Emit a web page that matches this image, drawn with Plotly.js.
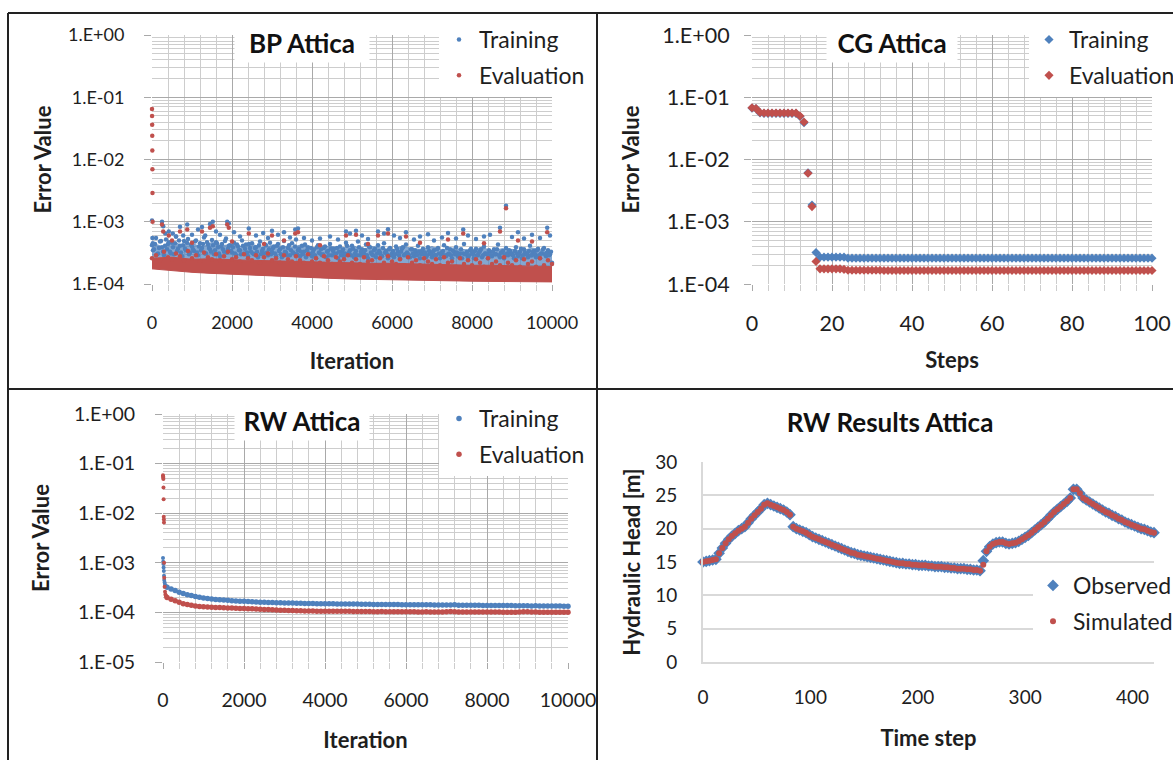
<!DOCTYPE html>
<html>
<head>
<meta charset="utf-8">
<script src="https://cdn.plot.ly/plotly-3.0.1.min.js"></script>
<style>html,body{margin:0;padding:0;background:#fff;overflow:hidden;width:1173px;height:760px;}#chart{width:1173px;height:760px;overflow:hidden;}</style>
</head>
<body>
<div id="chart"></div>
<script>
// ---------------- DATA ----------------
// Panel 1: BP Attica (Iteration vs Error Value)
const bpTrainBaseY = [
4.2e-4,3.6e-4,5.5e-4,3.1e-4,4.8e-4,3.9e-4,2.9e-4,5.2e-4,4.4e-4,3.3e-4,
4.6e-4,3.0e-4,5.8e-4,3.7e-4,4.1e-4,2.8e-4,4.9e-4,3.5e-4,5.3e-4,3.2e-4,
4.0e-4,3.4e-4,5.0e-4,2.9e-4,4.5e-4,3.8e-4,5.6e-4,3.1e-4,4.3e-4,3.6e-4,
5.1e-4,3.0e-4,4.7e-4,3.9e-4,2.8e-4,4.4e-4,3.3e-4,5.4e-4,3.7e-4,4.2e-4,
3.2e-4,4.6e-4,2.9e-4,4.0e-4,3.5e-4,5.0e-4,3.1e-4,4.3e-4,2.8e-4,3.8e-4,
4.5e-4,3.0e-4,3.9e-4,2.7e-4,4.8e-4,3.4e-4,3.1e-4,4.2e-4,2.9e-4,4.6e-4,
3.3e-4,4.0e-4,2.8e-4,4.4e-4,3.6e-4,2.7e-4,4.9e-4,3.2e-4,3.8e-4,2.9e-4,
4.5e-4,3.1e-4,5.2e-4,3.5e-4,2.8e-4,4.1e-4,3.3e-4,2.7e-4,3.9e-4,3.0e-4,
2.8e-4,3.6e-4,2.6e-4,4.2e-4,3.1e-4,2.9e-4,3.8e-4,2.7e-4,3.4e-4,4.4e-4,
2.9e-4,3.7e-4,3.1e-4,2.6e-4,4.0e-4,3.3e-4,2.8e-4,4.6e-4,3.0e-4,3.5e-4,
4.1e-4,2.7e-4,3.4e-4,4.8e-4,2.9e-4,3.6e-4,3.1e-4,4.3e-4,2.6e-4,3.9e-4,
3.0e-4,3.5e-4,2.7e-4,4.2e-4,3.2e-4,2.8e-4,4.5e-4,3.4e-4,2.6e-4,3.8e-4,
3.1e-4,2.7e-4,4.0e-4,3.3e-4,2.6e-4,3.7e-4,2.9e-4,4.3e-4,3.0e-4,2.7e-4,
3.6e-4,2.8e-4,3.2e-4,4.1e-4,2.6e-4,3.4e-4,3.0e-4,2.7e-4,3.9e-4,3.1e-4,
2.7e-4,3.5e-4,2.9e-4,3.8e-4,2.6e-4,3.2e-4,4.2e-4,2.8e-4,3.0e-4,3.6e-4,
2.6e-4,3.3e-4,3.9e-4,2.8e-4,3.1e-4,2.6e-4,4.4e-4,3.0e-4,2.7e-4,3.5e-4,
3.2e-4,2.6e-4,3.7e-4,2.9e-4,3.4e-4,2.7e-4,4.0e-4,3.1e-4,2.6e-4,3.3e-4,
2.8e-4,3.6e-4,3.0e-4,4.3e-4,2.7e-4,3.2e-4,2.6e-4,3.8e-4,2.9e-4,3.4e-4,
3.1e-4,2.6e-4,3.9e-4,2.8e-4,3.3e-4,2.6e-4,3.6e-4,3.0e-4,2.7e-4,4.1e-4,
2.9e-4,3.4e-4,2.7e-4,3.7e-4,2.6e-4,3.1e-4,3.8e-4,2.8e-4,3.5e-4,3.0e-4,
2.2e-4];
const bpTrainMidY = [
3.5e-4,4.4e-4,3.0e-4,3.8e-4,4.9e-4,3.3e-4,4.1e-4,3.6e-4,4.7e-4,3.1e-4,
3.9e-4,4.5e-4,3.4e-4,5.0e-4,3.2e-4,4.2e-4,3.7e-4,4.6e-4,3.0e-4,4.3e-4,
3.6e-4,4.8e-4,3.2e-4,4.0e-4,3.5e-4,4.4e-4,3.1e-4,4.7e-4,3.8e-4,3.3e-4,
4.2e-4,3.5e-4,4.5e-4,3.1e-4,4.0e-4,3.6e-4,4.9e-4,3.2e-4,4.1e-4,3.4e-4,
3.9e-4,3.1e-4,4.3e-4,3.5e-4,3.0e-4,4.1e-4,3.7e-4,3.2e-4,4.4e-4,3.3e-4,
3.1e-4,3.8e-4,3.3e-4,4.2e-4,3.0e-4,3.7e-4,4.3e-4,3.2e-4,3.6e-4,3.0e-4,
3.8e-4,3.1e-4,4.1e-4,3.4e-4,3.0e-4,3.9e-4,3.3e-4,2.9e-4,4.2e-4,3.5e-4,
3.2e-4,4.0e-4,3.0e-4,3.7e-4,3.3e-4,3.0e-4,4.3e-4,3.5e-4,3.1e-4,3.8e-4,
3.3e-4,2.9e-4,3.9e-4,3.2e-4,3.6e-4,3.0e-4,4.0e-4,3.3e-4,2.9e-4,3.7e-4,
3.4e-4,3.0e-4,3.8e-4,3.3e-4,2.9e-4,3.6e-4,3.1e-4,4.1e-4,3.2e-4,2.9e-4,
3.7e-4,3.1e-4,2.9e-4,3.9e-4,3.3e-4,3.0e-4,3.5e-4,2.9e-4,4.0e-4,3.2e-4,
2.9e-4,3.7e-4,3.1e-4,3.4e-4,2.9e-4,3.8e-4,3.2e-4,3.0e-4,3.6e-4,2.9e-4,
3.4e-4,3.0e-4,3.7e-4,2.9e-4,3.3e-4,3.9e-4,3.0e-4,3.2e-4,2.9e-4,3.6e-4,
3.1e-4,3.5e-4,2.9e-4,3.3e-4,3.0e-4,3.7e-4,3.2e-4,2.9e-4,3.4e-4,3.0e-4,
3.3e-4,2.9e-4,3.6e-4,3.1e-4,3.0e-4,3.4e-4,2.9e-4,3.8e-4,3.1e-4,2.9e-4,
3.4e-4,3.0e-4,3.2e-4,2.9e-4,3.6e-4,3.1e-4,3.0e-4,3.3e-4,2.9e-4,3.7e-4,
3.0e-4,3.4e-4,2.9e-4,3.2e-4,3.6e-4,2.9e-4,3.1e-4,3.0e-4,3.5e-4,2.9e-4,
3.3e-4,3.0e-4,3.6e-4,2.9e-4,3.2e-4,3.4e-4,2.9e-4,3.1e-4,3.5e-4,3.0e-4,
2.9e-4,3.4e-4,3.1e-4,3.0e-4,3.7e-4,2.9e-4,3.2e-4,3.0e-4,3.4e-4,2.9e-4,
3.3e-4,3.0e-4,3.5e-4,2.9e-4,3.1e-4,3.6e-4,3.0e-4,3.2e-4,2.9e-4,3.3e-4];
const bpTrainSpikeX = [0,10,20,250,280,330,420,520,600,700,780,880,1000,1150,1250,1330,1450,1520,1600,1700,1880,1920,2050,2200,2420,2600,2780,2900,3000,3150,3300,3450,3580,3650,3800,4000,4200,4450,4650,4850,4950,5100,5250,5400,5650,5800,5900,6050,6200,6350,6550,6700,6900,7050,7250,7400,7600,7780,7900,8100,8300,8450,8700,8850,9000,9150,9300,9500,9700,9880,9950];
const bpTrainSpikeY = [1.05e-3,5.5e-4,4.5e-4,1.0e-3,8.5e-4,6.5e-4,7.0e-4,6.5e-4,5.8e-4,8.3e-4,6.0e-4,9.0e-4,6.2e-4,7.5e-4,8.2e-4,6.0e-4,9.2e-4,1.0e-3,7.0e-4,6.2e-4,1.0e-3,9.5e-4,6.8e-4,5.8e-4,7.8e-4,6.0e-4,6.6e-4,5.5e-4,7.2e-4,6.2e-4,6.8e-4,5.6e-4,7.5e-4,7.8e-4,5.5e-4,5.0e-4,5.4e-4,5.8e-4,5.2e-4,7.0e-4,6.5e-4,7.2e-4,6.0e-4,5.3e-4,7.0e-4,6.5e-4,7.6e-4,6.0e-4,5.5e-4,6.8e-4,5.2e-4,5.8e-4,6.3e-4,5.0e-4,5.6e-4,6.6e-4,5.4e-4,7.5e-4,6.0e-4,5.3e-4,5.8e-4,6.2e-4,8.0e-4,1.8e-3,5.7e-4,6.8e-4,5.4e-4,6.2e-4,5.5e-4,8.0e-4,6.0e-4];
const bpTrainBandX = [0,250,500,750,1000,1250,1500,1750,2000,2250,2500,2750,3000,3250,3500,3750,4000,4250,4500,4750,5000,5250,5500,5750,6000,6250,6500,6750,7000,7250,7500,7750,8000,8250,8500,8750,9000,9250,9500,9750,10000];
const bpTrainBandHigh = [
4.6e-4,4.0e-4,4.8e-4,4.2e-4,4.5e-4,3.9e-4,4.7e-4,4.1e-4,4.4e-4,4.0e-4,
4.4e-4,3.8e-4,4.2e-4,4.1e-4,3.9e-4,4.3e-4,3.6e-4,4.1e-4,4.0e-4,3.7e-4,
4.2e-4,3.6e-4,4.0e-4,3.8e-4,3.5e-4,4.1e-4,3.7e-4,3.6e-4,4.0e-4,3.5e-4,
3.8e-4,3.6e-4,3.5e-4,3.9e-4,3.4e-4,3.7e-4,3.6e-4,3.4e-4,3.8e-4,3.5e-4,
3.0e-4];
const bpEvalBaseY = [
2.6e-4,2.9e-4,2.4e-4,3.3e-4,2.7e-4,2.5e-4,3.1e-4,2.8e-4,2.4e-4,3.4e-4,
2.6e-4,2.9e-4,2.3e-4,3.2e-4,2.7e-4,2.5e-4,3.0e-4,2.4e-4,2.8e-4,3.3e-4,
2.5e-4,2.7e-4,2.3e-4,3.0e-4,2.6e-4,2.4e-4,2.9e-4,2.2e-4,2.7e-4,3.1e-4,
2.4e-4,2.6e-4,2.2e-4,2.9e-4,2.5e-4,2.3e-4,2.8e-4,2.4e-4,2.2e-4,3.0e-4,
2.3e-4,2.6e-4,2.2e-4,2.8e-4,2.4e-4,2.1e-4,2.7e-4,2.3e-4,2.5e-4,2.9e-4,
2.2e-4,2.5e-4,2.1e-4,2.7e-4,2.3e-4,2.4e-4,2.0e-4,2.6e-4,2.2e-4,2.8e-4,
2.3e-4,2.1e-4,2.5e-4,2.0e-4,2.7e-4,2.2e-4,2.4e-4,2.0e-4,2.6e-4,2.3e-4,
2.1e-4,2.5e-4,2.0e-4,2.7e-4,2.2e-4,2.3e-4,1.9e-4,2.6e-4,2.1e-4,2.4e-4,
2.0e-4,2.5e-4,2.2e-4,1.9e-4,2.6e-4,2.1e-4,2.3e-4,2.0e-4,2.7e-4,2.2e-4,
2.0e-4,2.4e-4,1.9e-4,2.5e-4,2.1e-4,2.3e-4,1.9e-4,2.6e-4,2.0e-4,2.4e-4,
2.1e-4];
const bpEvalSpikeX = [0,2,4,6,8,10,12,14,250,280,420,500,700,880,1000,1250,1450,1520,1880,1920,2000,2420,2800,3000,3300,3580,3650,4200,4850,5100,5400,5650,5900,6350,6700,7400,7780,8300,8700,8850,9150,9500,9880];
const bpEvalSpikeY = [6.5e-2,5.0e-2,3.6e-2,2.4e-2,1.4e-2,7.0e-3,2.9e-3,1.0e-3,9.0e-4,7.0e-4,6.0e-4,5.0e-4,7.0e-4,7.5e-4,4.6e-4,7.0e-4,8.0e-4,8.5e-4,9.0e-4,8.0e-4,4.8e-4,6.5e-4,4.4e-4,6.0e-4,5.0e-4,6.5e-4,6.8e-4,4.2e-4,6.0e-4,6.2e-4,4.4e-4,6.0e-4,6.5e-4,5.8e-4,4.6e-4,5.2e-4,6.5e-4,4.5e-4,7.0e-4,1.65e-3,5.0e-4,4.8e-4,6.8e-4];
const bpBandX = [0,500,1000,1500,2000,2500,3000,3500,4000,4500,5000,5500,6000,6500,7000,7500,8000,8500,9000,9500,10000];
const bpEvalBandLow = [1.75e-4,1.62e-4,1.54e-4,1.48e-4,1.43e-4,1.38e-4,1.33e-4,1.29e-4,1.26e-4,1.23e-4,1.20e-4,1.18e-4,1.16e-4,1.14e-4,1.13e-4,1.12e-4,1.11e-4,1.10e-4,1.09e-4,1.09e-4,1.08e-4];
const bpEvalBandHigh = [2.6e-4,2.7e-4,2.5e-4,2.55e-4,2.45e-4,2.4e-4,2.35e-4,2.35e-4,2.25e-4,2.25e-4,2.2e-4,2.15e-4,2.15e-4,2.1e-4,2.05e-4,2.05e-4,2.0e-4,2.0e-4,1.95e-4,1.95e-4,1.9e-4];

// Panel 2: CG Attica (Steps vs Error Value)
const cgSteps = [0,1,2,3,4,5,6,7,8,9,10,11,12,13,14,15,16,17,18,19,20,21,22,23,24,25,26,27,28,29,30,31,32,33,34,35,36,37,38,39,40,41,42,43,44,45,46,47,48,49,50,51,52,53,54,55,56,57,58,59,60,61,62,63,64,65,66,67,68,69,70,71,72,73,74,75,76,77,78,79,80,81,82,83,84,85,86,87,88,89,90,91,92,93,94,95,96,97,98,99,100];
const cgTraining = [6.7e-2,6.6e-2,5.6e-2,5.5e-2,5.5e-2,5.5e-2,5.5e-2,5.5e-2,5.5e-2,5.5e-2,5.5e-2,5.5e-2,4.9e-2,3.9e-2,6.1e-3,1.85e-3,3.2e-4,2.7e-4,2.7e-4,2.7e-4,2.7e-4,2.7e-4,2.7e-4,2.7e-4,2.6e-4,2.6e-4,2.6e-4,2.6e-4,2.6e-4,2.6e-4,2.6e-4,2.6e-4,2.6e-4,2.6e-4,2.6e-4,2.6e-4,2.6e-4,2.6e-4,2.6e-4,2.6e-4,2.6e-4,2.6e-4,2.6e-4,2.6e-4,2.6e-4,2.6e-4,2.6e-4,2.6e-4,2.6e-4,2.6e-4,2.6e-4,2.6e-4,2.6e-4,2.6e-4,2.6e-4,2.6e-4,2.6e-4,2.6e-4,2.6e-4,2.6e-4,2.6e-4,2.6e-4,2.6e-4,2.6e-4,2.6e-4,2.6e-4,2.6e-4,2.6e-4,2.6e-4,2.6e-4,2.6e-4,2.6e-4,2.6e-4,2.6e-4,2.6e-4,2.6e-4,2.6e-4,2.6e-4,2.6e-4,2.6e-4,2.6e-4,2.6e-4,2.6e-4,2.6e-4,2.6e-4,2.6e-4,2.6e-4,2.6e-4,2.6e-4,2.6e-4,2.6e-4,2.6e-4,2.6e-4,2.6e-4,2.6e-4,2.6e-4,2.6e-4,2.6e-4,2.6e-4,2.6e-4,2.6e-4];
const cgEvaluation = [6.8e-2,6.6e-2,5.7e-2,5.6e-2,5.6e-2,5.6e-2,5.6e-2,5.6e-2,5.6e-2,5.6e-2,5.6e-2,5.6e-2,5.0e-2,4.0e-2,6.0e-3,1.75e-3,2.3e-4,1.75e-4,1.75e-4,1.75e-4,1.75e-4,1.75e-4,1.75e-4,1.72e-4,1.66e-4,1.66e-4,1.66e-4,1.66e-4,1.66e-4,1.66e-4,1.66e-4,1.66e-4,1.66e-4,1.65e-4,1.65e-4,1.65e-4,1.65e-4,1.65e-4,1.65e-4,1.65e-4,1.65e-4,1.65e-4,1.65e-4,1.65e-4,1.65e-4,1.65e-4,1.65e-4,1.65e-4,1.65e-4,1.65e-4,1.65e-4,1.65e-4,1.65e-4,1.65e-4,1.65e-4,1.65e-4,1.65e-4,1.65e-4,1.65e-4,1.65e-4,1.65e-4,1.65e-4,1.65e-4,1.65e-4,1.65e-4,1.65e-4,1.65e-4,1.65e-4,1.65e-4,1.65e-4,1.65e-4,1.65e-4,1.65e-4,1.65e-4,1.65e-4,1.65e-4,1.65e-4,1.65e-4,1.65e-4,1.65e-4,1.65e-4,1.65e-4,1.65e-4,1.65e-4,1.65e-4,1.65e-4,1.65e-4,1.65e-4,1.65e-4,1.65e-4,1.65e-4,1.65e-4,1.65e-4,1.65e-4,1.65e-4,1.65e-4,1.65e-4,1.65e-4,1.65e-4,1.65e-4,1.65e-4];

// Panel 3: RW Attica (Iteration vs Error Value)
const rwTrainEarlyX = [0,5,10,15,20,25,30,40,50,60,70,80];
const rwTrainEarlyY = [1.25e-3,1.05e-3,9.5e-4,8.0e-4,6.8e-4,5.5e-4,4.5e-4,4.0e-4,3.6e-4,3.5e-4,3.4e-4,3.3e-4];
const rwEvalEarlyX = [0,3,6,9,12,15,18,21,24,27,30,40,50,60,70,80];
const rwEvalEarlyY = [5.8e-2,5.5e-2,5.2e-2,4.9e-2,3.3e-2,1.9e-2,8.5e-3,7.5e-3,6.5e-3,1.0e-3,5.0e-4,3.3e-4,2.6e-4,2.3e-4,2.2e-4,2.1e-4];
const rwTrainCurve = [
3.2e-4,2.95e-4,2.75e-4,2.55e-4,2.4e-4,2.28e-4,2.18e-4,2.1e-4,2.02e-4,1.96e-4,
1.91e-4,1.87e-4,1.83e-4,1.8e-4,1.77e-4,1.75e-4,1.72e-4,1.7e-4,1.68e-4,1.67e-4,
1.65e-4,1.64e-4,1.62e-4,1.61e-4,1.6e-4,1.59e-4,1.58e-4,1.57e-4,1.56e-4,1.55e-4,
1.54e-4,1.54e-4,1.53e-4,1.53e-4,1.52e-4,1.51e-4,1.51e-4,1.5e-4,1.5e-4,1.49e-4,
1.49e-4,1.49e-4,1.48e-4,1.48e-4,1.48e-4,1.47e-4,1.47e-4,1.47e-4,1.46e-4,1.46e-4,
1.46e-4,1.45e-4,1.45e-4,1.45e-4,1.44e-4,1.44e-4,1.44e-4,1.44e-4,1.43e-4,1.43e-4,
1.43e-4,1.43e-4,1.42e-4,1.42e-4,1.42e-4,1.42e-4,1.41e-4,1.41e-4,1.41e-4,1.41e-4,
1.41e-4,1.42e-4,1.4e-4,1.4e-4,1.39e-4,1.39e-4,1.39e-4,1.39e-4,1.38e-4,1.38e-4,
1.38e-4,1.38e-4,1.37e-4,1.37e-4,1.37e-4,1.37e-4,1.36e-4,1.36e-4,1.36e-4,1.36e-4,
1.35e-4,1.36e-4,1.35e-4,1.35e-4,1.34e-4,1.34e-4,1.34e-4,1.34e-4,1.33e-4,1.33e-4];
const rwEvalCurve = [
2.0e-4,1.85e-4,1.72e-4,1.6e-4,1.5e-4,1.44e-4,1.39e-4,1.35e-4,1.32e-4,1.3e-4,
1.28e-4,1.27e-4,1.26e-4,1.25e-4,1.24e-4,1.23e-4,1.22e-4,1.21e-4,1.2e-4,1.2e-4,
1.19e-4,1.18e-4,1.17e-4,1.16e-4,1.15e-4,1.14e-4,1.13e-4,1.12e-4,1.11e-4,1.1e-4,
1.09e-4,1.09e-4,1.08e-4,1.08e-4,1.07e-4,1.07e-4,1.07e-4,1.06e-4,1.06e-4,1.06e-4,
1.06e-4,1.05e-4,1.05e-4,1.05e-4,1.06e-4,1.05e-4,1.04e-4,1.04e-4,1.04e-4,1.04e-4,
1.04e-4,1.03e-4,1.03e-4,1.04e-4,1.03e-4,1.03e-4,1.03e-4,1.03e-4,1.03e-4,1.03e-4,
1.03e-4,1.03e-4,1.02e-4,1.02e-4,1.03e-4,1.02e-4,1.02e-4,1.02e-4,1.02e-4,1.03e-4,
1.04e-4,1.03e-4,1.02e-4,1.02e-4,1.02e-4,1.02e-4,1.02e-4,1.02e-4,1.02e-4,1.02e-4,
1.02e-4,1.02e-4,1.02e-4,1.01e-4,1.01e-4,1.01e-4,1.01e-4,1.02e-4,1.03e-4,1.03e-4,
1.02e-4,1.02e-4,1.01e-4,1.01e-4,1.01e-4,1.01e-4,1.01e-4,1.01e-4,1.01e-4,1.01e-4];

// Panel 4: RW Results Attica (Time step vs Hydraulic Head)
const headObserved = [
15.0,15.1,15.2,15.3,15.4,16.3,17.1,17.8,18.4,18.9,19.3,19.7,20.0,20.3,20.9,21.5,22.0,22.5,23.0,23.6,
23.8,23.6,23.4,23.2,23.0,22.8,22.5,22.1,20.3,20.0,19.8,19.6,19.4,19.1,18.8,18.6,18.4,18.2,18.0,17.8,
17.6,17.4,17.2,17.0,16.8,16.6,16.4,16.3,16.1,16.0,15.9,15.8,15.7,15.6,15.5,15.4,15.3,15.2,15.1,15.0,
14.9,14.8,14.8,14.7,14.7,14.6,14.6,14.5,14.5,14.5,14.4,14.4,14.3,14.3,14.3,14.2,14.2,14.1,14.1,14.0,
14.0,14.0,13.9,13.9,13.8,13.8,13.7,15.2,16.6,17.3,17.7,17.9,18.0,18.0,17.8,17.7,17.8,17.9,18.1,18.4,
18.7,19.0,19.4,19.8,20.2,20.6,21.0,21.5,22.0,22.5,22.9,23.3,23.7,24.1,24.6,25.9,25.9,25.3,24.6,24.3,
24.0,23.7,23.4,23.1,22.8,22.5,22.3,22.0,21.8,21.5,21.3,21.0,20.8,20.6,20.4,20.2,20.0,19.9,19.7,19.5,
19.4];
const headSimulated = [
15.0,15.1,15.2,15.3,15.4,16.3,17.1,17.8,18.4,18.9,19.3,19.7,20.0,20.3,20.9,21.5,22.0,22.5,23.0,23.6,
23.8,23.6,23.4,23.2,23.0,22.8,22.5,22.1,20.3,20.0,19.8,19.6,19.4,19.1,18.8,18.6,18.4,18.2,18.0,17.8,
17.6,17.4,17.2,17.0,16.8,16.6,16.4,16.3,16.1,16.0,15.9,15.8,15.7,15.6,15.5,15.4,15.3,15.2,15.1,15.0,
14.9,14.8,14.8,14.7,14.7,14.6,14.6,14.5,14.5,14.5,14.4,14.4,14.3,14.3,14.3,14.2,14.2,14.1,14.1,14.0,
14.0,14.0,13.9,13.9,13.8,13.8,13.7,14.6,16.6,17.3,17.7,17.9,18.0,18.0,17.8,17.7,17.8,17.9,18.1,18.4,
18.7,19.0,19.4,19.8,20.2,20.6,21.0,21.5,22.0,22.5,22.9,23.3,23.7,24.1,24.6,25.9,25.9,25.3,24.6,24.3,
24.0,23.7,23.4,23.1,22.8,22.5,22.3,22.0,21.8,21.5,21.3,21.0,20.8,20.6,20.4,20.2,20.0,19.9,19.7,19.5,
19.4];

const iterTicks = [0, 2000, 4000, 6000, 8000, 10000];
const iterTickText = ['0', '2000', '4000', '6000', '8000', '10000'];
const stepTicks = [0, 20, 40, 60, 80, 100];
const timeTicks = [0, 100, 200, 300, 400];
const headTicks = [0, 5, 10, 15, 20, 25, 30];

// regular sample grids (iteration / step indices)
const bpTrainBaseX = bpTrainBaseY.map((_, i) => i * 50);
const bpTrainMidX = bpTrainMidY.map((_, i) => 25 + i * 50);
const bpEvalBaseX = bpEvalBaseY.map((_, i) => i * 100);
const rwCurveX = rwTrainCurve.map((_, i) => (i + 1) * 100);
const timeSteps = headObserved.map((_, i) => i * 3);

// ---------------- STYLE ----------------
const W = 1173, H = 760;
const F = 'Lato, "Open Sans", sans-serif';
const BLUE = '#4F81BD', RED = '#C0504D';
const TXT = '#1e1e1e';
const GMAJ = '#a9a9a9', GMIN = '#cdcdcd';
const fx = p => p / W, fy = p => 1 - p / H;

const logTickVals = [1, 0.1, 0.01, 0.001, 0.0001, 0.00001];
const logTickText = ['1.E+00', '1.E-01', '1.E-02', '1.E-03', '1.E-04', '1.E-05'];
function minorLog(dmin) {
  const v = [];
  for (let d = dmin; d < 0; d++) for (let k = 2; k <= 9; k++) v.push(k * Math.pow(10, d));
  return v;
}

function xAx(dom, range, tickvals, ticktext, minorStep, title, anchor, o) {
  return {
    domain: [fx(dom[0]), fx(dom[1])], range: range, anchor: anchor,
    tickmode: 'array', tickvals: tickvals, ticktext: ticktext,
    showgrid: true, gridcolor: GMAJ, gridwidth: 1, zeroline: false, showline: false,
    ticks: 'outside', ticklen: 6, tickcolor: GMAJ, ticklabelstandoff: o.lab,
    minor: { dtick: minorStep, tick0: 0, showgrid: true, gridcolor: GMIN, ticks: 'outside', ticklen: 6, tickcolor: GMIN },
    tickfont: { family: F, size: o.fs, color: TXT },
    title: { text: '<b>' + title + '</b>', font: { family: F, size: 22, color: TXT }, standoff: o.tit }
  };
}
function yLog(dom, dmin, anchor, o) {
  return {
    type: 'log', domain: [fy(dom[1]), fy(dom[0])], range: [dmin, 0], anchor: anchor,
    tickmode: 'array', tickvals: logTickVals.slice(0, 1 - dmin), ticktext: logTickText.slice(0, 1 - dmin),
    showgrid: true, gridcolor: GMAJ, gridwidth: 1, zeroline: false, showline: false,
    ticks: 'outside', ticklen: 7, tickcolor: GMAJ, ticklabelstandoff: o.lab,
    minor: { tickmode: 'array', tickvals: minorLog(dmin), showgrid: true, gridcolor: GMIN, ticks: '' },
    tickfont: { family: F, size: o.fs, color: TXT },
    title: { text: '<b>Error Value</b>', font: { family: F, size: 22, color: TXT }, standoff: o.tit }
  };
}
function leg(lx, ty) {
  return {
    x: fx(lx), y: fy(ty), xanchor: 'left', yanchor: 'top',
    bgcolor: '#ffffff', borderwidth: 0, font: { family: F, size: 23, color: TXT },
    traceorder: 'grouped', tracegroupgap: 3, itemwidth: 30
  };
}

const traces = [
  // Panel 1
  { x: bpBandX, y: bpEvalBandLow, xaxis: 'x', yaxis: 'y', type: 'scatter', mode: 'lines', name: 'Training',
    line: { color: BLUE, width: 0 }, showlegend: false, legendgroup: 'bpT' },
  { x: bpTrainBandX, y: bpTrainBandHigh, xaxis: 'x', yaxis: 'y', type: 'scatter', mode: 'lines', name: 'Training',
    line: { color: 'rgba(79,129,189,0.6)', width: 1 }, fill: 'tonexty', fillcolor: 'rgba(79,129,189,0.7)', showlegend: false, legendgroup: 'bpT' },
  { x: bpTrainBaseX, y: bpTrainBaseY, xaxis: 'x', yaxis: 'y', type: 'scatter', mode: 'markers', name: 'Training',
    marker: { color: BLUE, size: 4.5 }, legend: 'legend', legendgroup: 'bpT', cliponaxis: false },
  { x: bpTrainMidX, y: bpTrainMidY, xaxis: 'x', yaxis: 'y', type: 'scatter', mode: 'markers', name: 'Training',
    marker: { color: BLUE, size: 4.5 }, showlegend: false, legendgroup: 'bpT', cliponaxis: false },
  { x: bpTrainSpikeX, y: bpTrainSpikeY, xaxis: 'x', yaxis: 'y', type: 'scatter', mode: 'markers', name: 'Training',
    marker: { color: BLUE, size: 4.5 }, showlegend: false, legendgroup: 'bpT', cliponaxis: false },
  { x: bpBandX, y: bpEvalBandLow, xaxis: 'x', yaxis: 'y', type: 'scatter', mode: 'lines', name: 'Evaluation',
    line: { color: RED, width: 1 }, showlegend: false, legendgroup: 'bpE' },
  { x: bpBandX, y: bpEvalBandHigh, xaxis: 'x', yaxis: 'y', type: 'scatter', mode: 'lines', name: 'Evaluation',
    line: { color: RED, width: 1 }, fill: 'tonexty', fillcolor: RED, showlegend: false, legendgroup: 'bpE' },
  { x: bpEvalBaseX, y: bpEvalBaseY, xaxis: 'x', yaxis: 'y', type: 'scatter', mode: 'markers', name: 'Evaluation',
    marker: { color: RED, size: 4.5 }, legend: 'legend', legendgroup: 'bpE', cliponaxis: false },
  { x: bpEvalSpikeX, y: bpEvalSpikeY, xaxis: 'x', yaxis: 'y', type: 'scatter', mode: 'markers', name: 'Evaluation',
    marker: { color: RED, size: 4.5 }, showlegend: false, legendgroup: 'bpE', cliponaxis: false },
  // Panel 2
  { x: cgSteps, y: cgTraining, xaxis: 'x2', yaxis: 'y2', type: 'scatter', mode: 'markers', name: 'Training',
    marker: { color: BLUE, size: 7, symbol: 'diamond' }, legend: 'legend2', legendgroup: 'cgT', cliponaxis: false },
  { x: cgSteps, y: cgEvaluation, xaxis: 'x2', yaxis: 'y2', type: 'scatter', mode: 'markers', name: 'Evaluation',
    marker: { color: RED, size: 7, symbol: 'diamond' }, legend: 'legend2', legendgroup: 'cgE', cliponaxis: false },
  // Panel 3
  { x: rwCurveX, y: rwTrainCurve, xaxis: 'x3', yaxis: 'y3', type: 'scatter', mode: 'markers', name: 'Training',
    marker: { color: BLUE, size: 5.5 }, legend: 'legend3', legendgroup: 'rwT', cliponaxis: false },
  { x: rwTrainEarlyX, y: rwTrainEarlyY, xaxis: 'x3', yaxis: 'y3', type: 'scatter', mode: 'markers', name: 'Training',
    marker: { color: BLUE, size: 4 }, showlegend: false, legendgroup: 'rwT', cliponaxis: false },
  { x: rwCurveX, y: rwEvalCurve, xaxis: 'x3', yaxis: 'y3', type: 'scatter', mode: 'markers', name: 'Evaluation',
    marker: { color: RED, size: 5.5 }, legend: 'legend3', legendgroup: 'rwE', cliponaxis: false },
  { x: rwEvalEarlyX, y: rwEvalEarlyY, xaxis: 'x3', yaxis: 'y3', type: 'scatter', mode: 'markers', name: 'Evaluation',
    marker: { color: RED, size: 4 }, showlegend: false, legendgroup: 'rwE', cliponaxis: false },
  // Panel 4
  { x: timeSteps, y: headObserved, xaxis: 'x4', yaxis: 'y4', type: 'scatter', mode: 'markers', name: 'Observed',
    marker: { color: BLUE, size: 9, symbol: 'diamond' }, legend: 'legend4', legendgroup: 'obs', cliponaxis: false },
  { x: timeSteps, y: headSimulated, xaxis: 'x4', yaxis: 'y4', type: 'scatter', mode: 'markers', name: 'Simulated',
    marker: { color: RED, size: 6 }, legend: 'legend4', legendgroup: 'sim', cliponaxis: false }
];

const x4 = {
  domain: [fx(703), fx(1154)], range: [0, 420], anchor: 'y4',
  tickmode: 'array', tickvals: timeTicks,
  showgrid: false, zeroline: false, showline: true, linecolor: '#d9d9d9', linewidth: 2,
  ticks: '', ticklabelstandoff: 17,
  tickfont: { family: F, size: 19, color: TXT },
  title: { text: '<b>Time step</b>', font: { family: F, size: 22, color: TXT }, standoff: 24 }
};
const y4 = {
  domain: [fy(662), fy(462)], range: [0, 30], anchor: 'x4',
  tickmode: 'array', tickvals: headTicks,
  showgrid: true, gridcolor: '#d9d9d9', gridwidth: 2, zeroline: false, showline: true, linecolor: '#d9d9d9', linewidth: 2,
  ticks: '', ticklabelstandoff: 20,
  tickfont: { family: F, size: 19, color: TXT },
  title: { text: '<b>Hydraulic Head [m]</b>', font: { family: F, size: 22, color: TXT }, standoff: 8 }
};

function titleAnn(text, cx, cy, w, bg) {
  return { xref: 'paper', yref: 'paper', x: fx(cx), y: fy(cy), xanchor: 'center', yanchor: 'middle',
    text: '<b>' + text + '</b>', showarrow: false, font: { family: F, size: 26, color: '#111' },
    bgcolor: bg ? '#ffffff' : 'rgba(0,0,0,0)', width: w, height: 38, borderpad: 0 };
}
function border(x0, y0, x1, y1) {
  return { type: 'line', xref: 'paper', yref: 'paper', x0: fx(x0), y0: fy(y0), x1: fx(x1), y1: fy(y1),
    line: { color: '#222', width: 2 }, layer: 'above' };
}

const layout = {
  width: W, height: H, margin: { l: 0, r: 0, t: 0, b: 0, autoexpand: false },
  paper_bgcolor: '#fff', plot_bgcolor: '#fff',
  font: { family: F, color: TXT },
  xaxis: xAx([152, 552], [0, 10000], iterTicks, iterTickText, 400, 'Iteration', 'y', { fs: 18, lab: 16, tit: 22 }),
  yaxis: yLog([35, 284], -4, 'x', { fs: 18, lab: 16, tit: 10 }),
  xaxis2: xAx([752, 1152], [0, 100], stepTicks, stepTicks.map(String), 4, 'Steps', 'y2', { fs: 21.5, lab: 14, tit: 17 }),
  yaxis2: yLog([35, 284], -4, 'x2', { fs: 21.5, lab: 10, tit: 16 }),
  xaxis3: xAx([163, 568], [0, 10000], iterTicks, iterTickText, 400, 'Iteration', 'y3', { fs: 19.5, lab: 15, tit: 22 }),
  yaxis3: yLog([414, 662], -5, 'x3', { fs: 19.5, lab: 16, tit: 18 }),
  xaxis4: x4, yaxis4: y4,
  legend: leg(439, 18), legend2: leg(1029, 18), legend3: leg(439, 397), legend4: leg(1033, 564),
  annotations: [
    titleAnn('BP Attica', 302, 43, 134, true),
    titleAnn('CG Attica', 892, 43, 130, true),
    titleAnn('RW Attica', 302, 421, 134, true),
    titleAnn('RW Results Attica', 890, 422, 230, false)
  ],
  shapes: [
    border(8, 13, 1173, 13), border(8, 13, 8, 760), border(597, 13, 597, 760), border(8, 389, 1173, 389)
  ],
  showlegend: true
};

Plotly.newPlot('chart', traces, layout, { staticPlot: true, displayModeBar: false });
</script>
</body>
</html>
